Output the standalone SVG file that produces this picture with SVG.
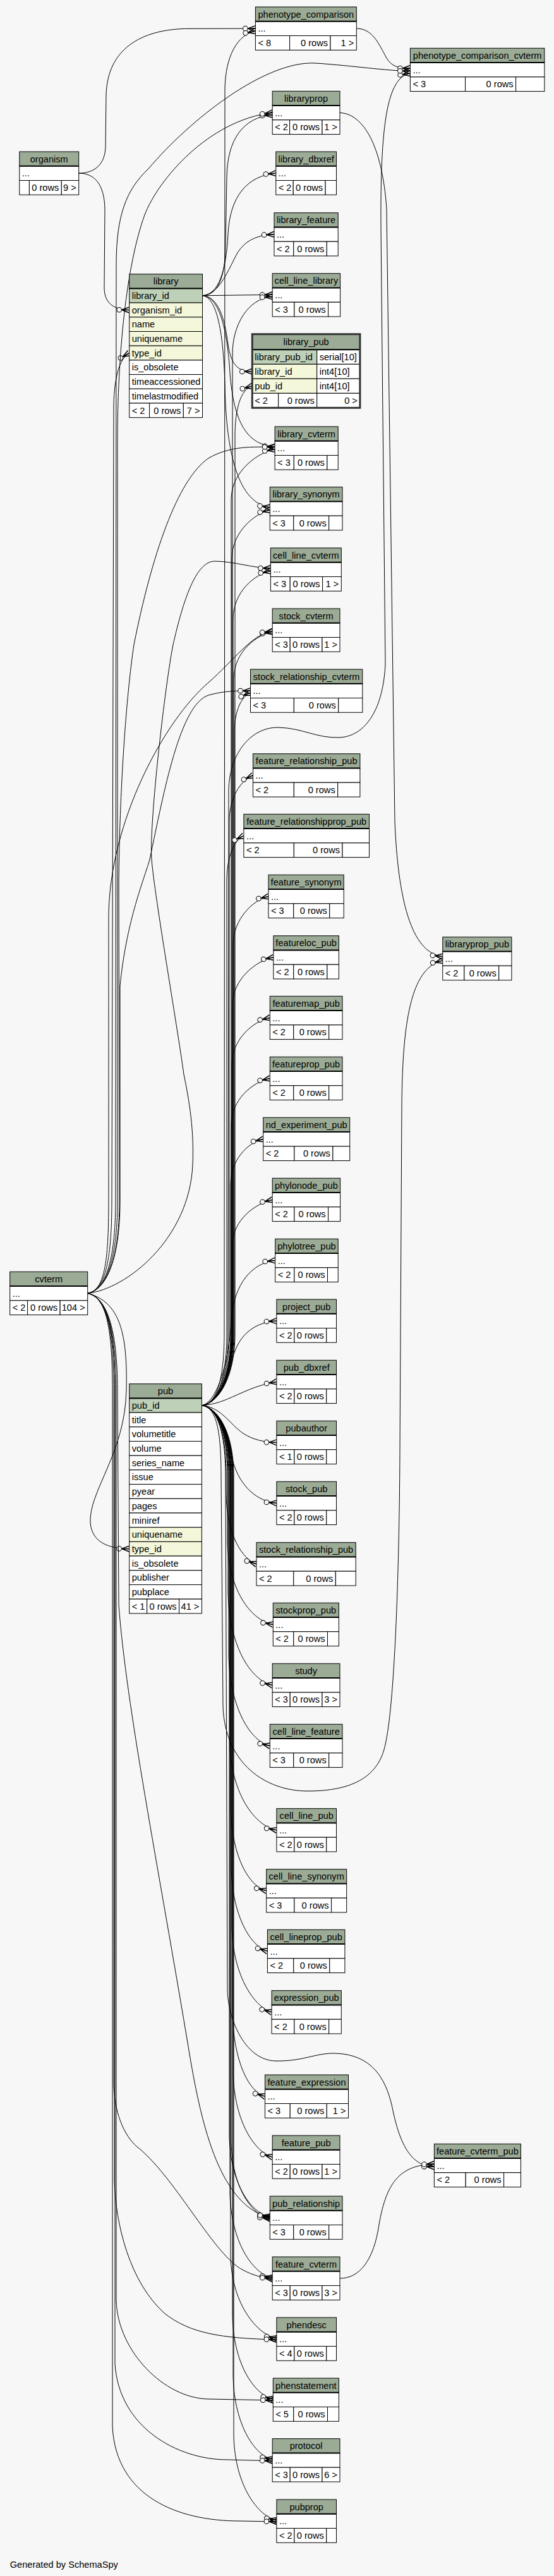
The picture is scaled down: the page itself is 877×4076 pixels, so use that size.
<svg xmlns="http://www.w3.org/2000/svg" width="877" height="4076" viewBox="0 0 877 4076">
<style>
.hd{fill:#9bab96;stroke:#000;stroke-width:1}
.rw{fill:#fff;stroke:#000;stroke-width:1}
.pk{fill:#bed1b8;stroke:#000;stroke-width:1}
.ix{fill:#f4f7da;stroke:#000;stroke-width:1}
.hb{stroke:#000;stroke-width:2}
.ob{fill:none;stroke:#333;stroke-width:3}
text{font-family:"Liberation Sans",Arial,Helvetica,sans-serif;font-size:14.6px;fill:#000}
.c{text-anchor:middle}
.r{text-anchor:end}
.e{fill:none;stroke:#000;stroke-width:1;marker-end:url(#crow)}
</style>
<defs>
<marker id="crow" viewBox="-22 -8 24 16" refX="0" refY="0" markerWidth="24" markerHeight="16" markerUnits="userSpaceOnUse" orient="auto">
<path d="M-12,0 L0,-4.5 M-12,0 L0,0 M-12,0 L0,4.5" fill="none" stroke="#000" stroke-width="1.5"/>
<circle cx="-16" cy="0" r="3.8" fill="#f7f7f7" stroke="#000" stroke-width="1"/>
</marker>
</defs>
<rect x="0" y="0" width="877" height="4076" fill="#f7f7f7"/>
<g id="connectors">
<path class="e" d="M124.7,274.1 C150,274 166,260 167,233 L168,150 C170,80 220,45.5 300,45.3 L404.4,45.1"/>
<path class="e" d="M124.7,274.1 C150,274 165,292 166,330 L165,455 C165,478 178,490 204.7,490.45"/>
<path class="e" d="M320.5,467.75 C345,467 356,440 357,390 L359,280 C360,220 385,186 431.2,181.5"/>
<path class="e" d="M320.5,467.75 C346,466 358,430 361,370 C364,310 392,278 436.8,274.1"/>
<path class="e" d="M320.5,467.75 C348,466 362,425 376,400 C390,378 410,372 434,370.8"/>
<path class="e" d="M320.5,467.75 L431.2,466.3"/>
<path class="e" d="M320.5,467.75 C346,469 356,505 361,545 C366,578 377,588 399.3,587.8"/>
<path class="e" d="M320.5,467.75 C348,469 360,525 364,590 C370,670 392,704 435.1,707"/>
<path class="e" d="M320.5,467.75 C344,470 354,530 356,610 C358,720 378,796 427.3,802.8"/>
<path class="e" d="M319.4,2223.75 C342,2222 355,2185 355,2110 L356,140 C357,90 375,55 404.4,49"/>
<path class="e" d="M319.4,2223.75 C342,2222 361,2185 361,2110 L362,1250 C363,1195 395,1151 440,1151 C480,1152 500,1168 537,1167 C580,1165 607,1120 610,1050 L603,360 C602,200 612,122 649.4,116"/>
<path class="e" d="M319.4,2223.75 C342,2222 368,2185 368,2110 L368,560 C368,515 392,472 431.2,469.3"/>
<path class="e" d="M319.4,2223.75 C342,2222 372,2185 372,2110 L372,690 C372,650 380,616 399.3,610.8"/>
<path class="e" d="M319.4,2223.75 C342,2222 366,2185 366,2110 L366,790 C366,745 410,715 435.1,711"/>
<path class="e" d="M319.4,2223.75 C342,2222 367,2185 367,2110 L367,885 C367,840 405,812 427.3,807"/>
<path class="e" d="M319.4,2223.75 C342,2222 369,2185 369,2110 L369,980 C369,935 405,908 428.4,903.5"/>
<path class="e" d="M319.4,2223.75 C342,2222 370,2185 370,2110 L370,1075 C370,1030 408,1004 431.2,999.5"/>
<path class="e" d="M319.4,2223.75 C342,2222 371,2185 371,2110 L371,1160 C371,1125 382,1102 396.5,1096"/>
<path class="e" d="M319.4,2223.75 C342,2222 363,2185 363,2110 L363,1300 C363,1262 380,1236 400.5,1226.8"/>
<path class="e" d="M319.4,2223.75 C342,2222 359,2185 359,2110 L359,1395 C359,1356 370,1330 385.9,1322.4"/>
<path class="e" d="M319.4,2223.75 C342,2222 369,2185 369,2110 L369,1495 C369,1455 400,1424 425,1418.4"/>
<path class="e" d="M319.4,2223.75 C342,2222 368,2185 368,2110 L368,1590 C368,1550 405,1520 432.9,1514.8"/>
<path class="e" d="M319.4,2223.75 C342,2222 367,2185 367,2110 L367,1685 C367,1645 400,1616 427.3,1610.4"/>
<path class="e" d="M319.4,2223.75 C342,2222 366,2185 366,2110 L366,1780 C366,1740 400,1712 427.3,1706.4"/>
<path class="e" d="M319.4,2223.75 C342,2222 365,2185 365,2110 L365,1875 C365,1835 392,1808 416.7,1802.4"/>
<path class="e" d="M319.4,2223.75 C342,2222 368,2185 368,2110 L368,1970 C368,1930 405,1904 431.2,1898.4"/>
<path class="e" d="M319.4,2223.75 C342,2220 362,2160 366,2090 C370,2030 400,1998 435.7,1994.4"/>
<path class="e" d="M319.4,2223.75 C345,2220 360,2185 368,2150 C378,2110 405,2092 437.9,2090.1"/>
<path class="e" d="M319.4,2223.75 C360,2222 385,2195 437.9,2186.4"/>
<path class="e" d="M319.4,2223.75 C350,2226 365,2255 385,2268 C400,2278 418,2282 437.9,2282.4"/>
<path class="e" d="M319.4,2223.75 C345,2228 358,2270 368,2310 C380,2355 410,2376 437.9,2378.4"/>
<path class="e" d="M319.4,2223.75 C342,2226 358,2262 358,2335 L358,2360 C358,2430 385,2468 406,2474.8"/>
<path class="e" d="M319.4,2223.75 C342,2226 360,2262 360,2335 L360,2440 C362,2520 400,2565 432.3,2570.4"/>
<path class="e" d="M319.4,2223.75 C342,2226 361,2262 361,2335 L361,2520 C363,2610 400,2660 431.2,2666.4"/>
<path class="e" d="M319.4,2223.75 C342,2226 362,2262 362,2335 L362,2620 C364,2705 398,2756 427.3,2762.4"/>
<path class="e" d="M319.4,2223.75 C342,2226 364,2262 364,2335 L364,2760 C366,2840 405,2890 437.9,2895.8"/>
<path class="e" d="M319.4,2223.75 C342,2226 365,2262 365,2335 L365,2860 C367,2940 395,2985 421.7,2991.8"/>
<path class="e" d="M319.4,2223.75 C342,2226 366,2262 366,2335 L366,2955 C368,3035 398,3080 423.4,3087.4"/>
<path class="e" d="M319.4,2223.75 C342,2226 367,2262 367,2335 L367,3050 C369,3130 405,3177 430.1,3183.8"/>
<path class="e" d="M319.4,2223.75 C342,2226 368,2262 368,2335 L368,3185 C370,3265 395,3310 419.5,3317.1"/>
<path class="e" d="M319.4,2223.75 C342,2226 369,2262 369,2335 L369,3280 C371,3360 405,3406 431.2,3413.1"/>
<path class="e" d="M319.4,2223.75 C342,2226 363,2262 363,2335 L363,3380 C365,3460 400,3503 427.3,3507.5"/>
<path class="e" d="M319.4,2223.75 C342,2226 366,2262 366,2335 L366,3390 C368,3470 405,3508 427.3,3510.5"/>
<path class="e" d="M319.4,2223.75 C342,2226 364,2262 364,2335 L364,3470 C366,3555 405,3600 431.2,3604"/>
<path class="e" d="M319.4,2223.75 C342,2226 365,2262 365,2335 L365,3570 C367,3650 410,3695 437.9,3700"/>
<path class="e" d="M319.4,2223.75 C342,2226 368,2262 368,2335 L368,3665 C370,3745 405,3790 432.3,3796"/>
<path class="e" d="M319.4,2223.75 C342,2226 369,2262 369,2335 L369,3760 C371,3840 405,3886 431.2,3891.5"/>
<path class="e" d="M319.4,2223.75 C342,2226 370,2262 370,2335 L370,3855 C372,3935 410,3982 437.9,3988"/>
<path class="e" d="M319.4,2223.75 C342,2226 350,2262 350,2335 L353,2700 C356,2790 420,2834 487,2834 C560,2834 600,2810 610,2760 C624,2700 632,2500 633,2300 L636,1750 C637,1600 655,1530 700.8,1520"/>
<path class="e" d="M319.4,2223.75 C342,2226 357,2262 357,2335 L360,3150 C362,3200 390,3260 436,3261 C480,3262 500,3248 531,3249 C590,3251 610,3290 620,3330 C630,3380 645,3428 687.4,3428.5"/>
<path class="e" d="M538,178.4 C575,180 605,230 612,330 L625,1300 C630,1420 650,1508 700.8,1513.5"/>
<path class="e" d="M564.3,45.1 C590,45 600,70 612,92 C620,105 630,108 649.4,108"/>
<path class="e" d="M538,3605.1 C570,3605 592,3575 600,3520 C612,3450 635,3426 687.4,3424"/>
<path class="e" d="M138.7,2046.4 C165,2042 177,2000 177,1900 L180,640 C181,600 188,568 204.7,558.5"/>
<path class="e" d="M138.7,2046.4 C165,2042 186,2000 186,1900 L186,700 C186,560 200,420 229,340 C250,285 330,190 431.2,178.4"/>
<path class="e" d="M138.7,2046.4 C165,2042 183,2000 183,1900 L184,420 C184,340 200,300 235,267 C300,190 420,95 500,100 C560,104 610,112 649.4,112.5"/>
<path class="e" d="M138.7,2046.4 C165,2042 189,2000 189,1900 L188,1400 C189,1250 200,1100 212,1020 C240,880 280,760 330,725 C365,705 400,707 435.1,707.5"/>
<path class="e" d="M138.7,2046.4 C200,2040 300,1960 305,1843 C308,1780 296,1725 291,1700 C280,1620 245,1420 240,1360 C236,1300 262,1080 274,1020 C290,950 310,888 340,888 C370,888 400,899 428.4,899"/>
<path class="e" d="M138.7,2046.4 C165,2042 172,2000 172,1900 L172,1450 C173,1300 260,1140 330,1080 C370,1045 400,1002 431.2,999"/>
<path class="e" d="M138.7,2046.4 C165,2042 190,2000 190,1900 L190,1560 C200,1460 225,1400 237,1360 C260,1250 285,1115 330,1100 C355,1093 375,1093 396.5,1093.1"/>
<path class="e" d="M138.7,2046.4 C190,2060 202,2110 200,2200 C198,2300 140,2360 143,2410 C146,2440 170,2450 204.7,2450.75"/>
<path class="e" d="M138.7,2046.4 C168,2052 186,2100 186,2200 L188,2540 C200,2700 250,2950 300,3250 C320,3370 350,3490 427.3,3509.1"/>
<path class="e" d="M138.7,2046.4 C168,2052 180,2100 180,2200 L180,3300 C182,3350 200,3385 221,3400 C280,3450 340,3570 385,3592 C400,3600 415,3604 431.2,3606"/>
<path class="e" d="M138.7,2046.4 C168,2052 182,2100 182,2200 L181,3450 C183,3520 205,3610 260,3660 C300,3692 350,3700 437.9,3702"/>
<path class="e" d="M138.7,2046.4 C168,2052 184,2100 184,2200 L184,3640 C186,3720 260,3795 330,3796 L432.3,3798"/>
<path class="e" d="M138.7,2046.4 C168,2052 182,2100 182,2200 L182,3740 C188,3840 280,3892 360,3892 L431.2,3893.8"/>
<path class="e" d="M138.7,2046.4 C168,2052 178,2100 178,2200 L178,3840 C184,3950 280,3989 380,3989 L437.9,3990"/>
</g>
<g id="phenotype_comparison">
<rect class="hd" x="404.4" y="11" width="159.9" height="22.75"/><rect class="rw" x="404.4" y="33.75" width="159.9" height="22.75"/>
<rect class="rw" x="404.4" y="56.5" width="54.2" height="22.75"/><rect class="rw" x="458.6" y="56.5" width="64.4" height="22.75"/><rect class="rw" x="523" y="56.5" width="41.3" height="22.75"/>
<line class="hb" x1="404.4" y1="33.75" x2="564.3" y2="33.75"/>
<text class="c" x="484.35" y="27.5">phenotype_comparison</text><text x="408.4" y="50.25">...</text>
<text x="408.4" y="73">&lt; 8</text><text class="r" x="519" y="73">0 rows</text><text class="r" x="560.3" y="73">1 &gt;</text>
</g>
<g id="phenotype_comparison_cvterm">
<rect class="hd" x="649.4" y="76.3" width="212.5" height="22.75"/><rect class="rw" x="649.4" y="99.05" width="212.5" height="22.75"/>
<rect class="rw" x="649.4" y="121.8" width="87.2" height="22.75"/><rect class="rw" x="736.6" y="121.8" width="80" height="22.75"/><rect class="rw" x="816.6" y="121.8" width="45.3" height="22.75"/>
<line class="hb" x1="649.4" y1="99.05" x2="861.9" y2="99.05"/>
<text class="c" x="755.65" y="92.8">phenotype_comparison_cvterm</text><text x="653.4" y="115.55">...</text>
<text x="653.4" y="138.3">&lt; 3</text><text class="r" x="812.6" y="138.3">0 rows</text>
</g>
<g id="libraryprop">
<rect class="hd" x="431.2" y="144.3" width="106.8" height="22.75"/><rect class="rw" x="431.2" y="167.05" width="106.8" height="22.75"/>
<rect class="rw" x="431.2" y="189.8" width="27.4" height="22.75"/><rect class="rw" x="458.6" y="189.8" width="51.4" height="22.75"/><rect class="rw" x="510" y="189.8" width="28" height="22.75"/>
<line class="hb" x1="431.2" y1="167.05" x2="538" y2="167.05"/>
<text class="c" x="484.6" y="160.8">libraryprop</text><text x="435.2" y="183.55">...</text>
<text x="435.2" y="206.3">&lt; 2</text><text class="r" x="506" y="206.3">0 rows</text><text class="r" x="534" y="206.3">1 &gt;</text>
</g>
<g id="library_dbxref">
<rect class="hd" x="436.8" y="240" width="95.7" height="22.75"/><rect class="rw" x="436.8" y="262.75" width="95.7" height="22.75"/>
<rect class="rw" x="436.8" y="285.5" width="27.4" height="22.75"/><rect class="rw" x="464.2" y="285.5" width="50.9" height="22.75"/><rect class="rw" x="515.1" y="285.5" width="17.4" height="22.75"/>
<line class="hb" x1="436.8" y1="262.75" x2="532.5" y2="262.75"/>
<text class="c" x="484.65" y="256.5">library_dbxref</text><text x="440.8" y="279.25">...</text>
<text x="440.8" y="302">&lt; 2</text><text class="r" x="511.1" y="302">0 rows</text>
</g>
<g id="organism">
<rect class="hd" x="30.8" y="240" width="93.9" height="22.75"/><rect class="rw" x="30.8" y="262.75" width="93.9" height="22.75"/>
<rect class="rw" x="30.8" y="285.5" width="15.6" height="22.75"/><rect class="rw" x="46.4" y="285.5" width="50.9" height="22.75"/><rect class="rw" x="97.3" y="285.5" width="27.4" height="22.75"/>
<line class="hb" x1="30.8" y1="262.75" x2="124.7" y2="262.75"/>
<text class="c" x="77.75" y="256.5">organism</text><text x="34.8" y="279.25">...</text>
<text class="r" x="93.3" y="302">0 rows</text><text class="r" x="120.7" y="302">9 &gt;</text>
</g>
<g id="library_feature">
<rect class="hd" x="434" y="336.7" width="101.2" height="22.75"/><rect class="rw" x="434" y="359.45" width="101.2" height="22.75"/>
<rect class="rw" x="434" y="382.2" width="30.8" height="22.75"/><rect class="rw" x="464.8" y="382.2" width="52.5" height="22.75"/><rect class="rw" x="517.3" y="382.2" width="17.9" height="22.75"/>
<line class="hb" x1="434" y1="359.45" x2="535.2" y2="359.45"/>
<text class="c" x="484.6" y="353.2">library_feature</text><text x="438" y="375.95">...</text>
<text x="438" y="398.7">&lt; 2</text><text class="r" x="513.3" y="398.7">0 rows</text>
</g>
<g id="cell_line_library">
<rect class="hd" x="431.2" y="432.7" width="107.4" height="22.75"/><rect class="rw" x="431.2" y="455.45" width="107.4" height="22.75"/>
<rect class="rw" x="431.2" y="478.2" width="34.7" height="22.75"/><rect class="rw" x="465.9" y="478.2" width="53.7" height="22.75"/><rect class="rw" x="519.6" y="478.2" width="19" height="22.75"/>
<line class="hb" x1="431.2" y1="455.45" x2="538.6" y2="455.45"/>
<text class="c" x="484.9" y="449.2">cell_line_library</text><text x="435.2" y="471.95">...</text>
<text x="435.2" y="494.7">&lt; 3</text><text class="r" x="515.6" y="494.7">0 rows</text>
</g>
<g id="library">
<rect class="hd" x="204.7" y="433.7" width="115.8" height="22.7"/>
<rect class="pk" x="204.7" y="456.4" width="115.8" height="22.7"/>
<rect class="ix" x="204.7" y="479.1" width="115.8" height="22.7"/>
<rect class="ix" x="204.7" y="501.8" width="115.8" height="22.7"/>
<rect class="ix" x="204.7" y="524.5" width="115.8" height="22.7"/>
<rect class="ix" x="204.7" y="547.2" width="115.8" height="22.7"/>
<rect class="rw" x="204.7" y="569.9" width="115.8" height="22.7"/>
<rect class="rw" x="204.7" y="592.6" width="115.8" height="22.7"/>
<rect class="rw" x="204.7" y="615.3" width="115.8" height="22.7"/>
<rect class="rw" x="204.7" y="638" width="31.9" height="22.7"/><rect class="rw" x="236.6" y="638" width="53.7" height="22.7"/><rect class="rw" x="290.3" y="638" width="30.2" height="22.7"/>
<line class="hb" x1="204.7" y1="456.4" x2="320.5" y2="456.4"/>
<text class="c" x="262.6" y="450.2">library</text>
<text x="208.7" y="472.9">library_id</text>
<text x="208.7" y="495.6">organism_id</text>
<text x="208.7" y="518.3">name</text>
<text x="208.7" y="541">uniquename</text>
<text x="208.7" y="563.7">type_id</text>
<text x="208.7" y="586.4">is_obsolete</text>
<text x="208.7" y="609.1">timeaccessioned</text>
<text x="208.7" y="631.8">timelastmodified</text>
<text x="208.7" y="654.5">&lt; 2</text><text class="r" x="286.3" y="654.5">0 rows</text><text class="r" x="316.5" y="654.5">7 &gt;</text>
</g>
<g id="library_pub">
<rect class="hd" x="399.3" y="528.7" width="170.6" height="24.6"/>
<rect class="pk" x="399.3" y="553.3" width="102.4" height="23"/><rect class="rw" x="501.7" y="553.3" width="68.2" height="23"/>
<rect class="ix" x="399.3" y="576.3" width="102.4" height="23"/><rect class="rw" x="501.7" y="576.3" width="68.2" height="23"/>
<rect class="ix" x="399.3" y="599.3" width="102.4" height="23"/><rect class="rw" x="501.7" y="599.3" width="68.2" height="23"/>
<rect class="rw" x="399.3" y="622.3" width="41.4" height="23"/><rect class="rw" x="440.7" y="622.3" width="61" height="23"/><rect class="rw" x="501.7" y="622.3" width="68.2" height="23"/>
<line class="hb" x1="399.3" y1="553.3" x2="569.9" y2="553.3"/>
<rect class="ob" x="399.3" y="528.7" width="170.6" height="116.6"/>
<text class="c" x="484.6" y="545.5">library_pub</text>
<text x="403.3" y="569.8">library_pub_id</text><text x="505.7" y="569.8">serial[10]</text>
<text x="403.3" y="592.8">library_id</text><text x="505.7" y="592.8">int4[10]</text>
<text x="403.3" y="615.8">pub_id</text><text x="505.7" y="615.8">int4[10]</text>
<text x="403.3" y="638.8">&lt; 2</text><text class="r" x="497.7" y="638.8">0 rows</text><text class="r" x="565.9" y="638.8">0 &gt;</text>
</g>
<g id="library_cvterm">
<rect class="hd" x="435.1" y="675" width="100.1" height="22.75"/><rect class="rw" x="435.1" y="697.75" width="100.1" height="22.75"/>
<rect class="rw" x="435.1" y="720.5" width="30.2" height="22.75"/><rect class="rw" x="465.3" y="720.5" width="52.6" height="22.75"/><rect class="rw" x="517.9" y="720.5" width="17.3" height="22.75"/>
<line class="hb" x1="435.1" y1="697.75" x2="535.2" y2="697.75"/>
<text class="c" x="485.15" y="691.5">library_cvterm</text><text x="439.1" y="714.25">...</text>
<text x="439.1" y="737">&lt; 3</text><text class="r" x="513.9" y="737">0 rows</text>
</g>
<g id="library_synonym">
<rect class="hd" x="427.3" y="770.7" width="114.7" height="22.75"/><rect class="rw" x="427.3" y="793.45" width="114.7" height="22.75"/>
<rect class="rw" x="427.3" y="816.2" width="37.5" height="22.75"/><rect class="rw" x="464.8" y="816.2" width="55.9" height="22.75"/><rect class="rw" x="520.7" y="816.2" width="21.3" height="22.75"/>
<line class="hb" x1="427.3" y1="793.45" x2="542" y2="793.45"/>
<text class="c" x="484.65" y="787.2">library_synonym</text><text x="431.3" y="809.95">...</text>
<text x="431.3" y="832.7">&lt; 3</text><text class="r" x="516.7" y="832.7">0 rows</text>
</g>
<g id="cell_line_cvterm">
<rect class="hd" x="428.4" y="867" width="111.9" height="22.75"/><rect class="rw" x="428.4" y="889.75" width="111.9" height="22.75"/>
<rect class="rw" x="428.4" y="912.5" width="30.8" height="22.75"/><rect class="rw" x="459.2" y="912.5" width="51.4" height="22.75"/><rect class="rw" x="510.6" y="912.5" width="29.7" height="22.75"/>
<line class="hb" x1="428.4" y1="889.75" x2="540.3" y2="889.75"/>
<text class="c" x="484.35" y="883.5">cell_line_cvterm</text><text x="432.4" y="906.25">...</text>
<text x="432.4" y="929">&lt; 3</text><text class="r" x="506.6" y="929">0 rows</text><text class="r" x="536.3" y="929">1 &gt;</text>
</g>
<g id="stock_cvterm">
<rect class="hd" x="431.2" y="963" width="106.8" height="22.75"/><rect class="rw" x="431.2" y="985.75" width="106.8" height="22.75"/>
<rect class="rw" x="431.2" y="1008.5" width="28" height="22.75"/><rect class="rw" x="459.2" y="1008.5" width="50.8" height="22.75"/><rect class="rw" x="510" y="1008.5" width="28" height="22.75"/>
<line class="hb" x1="431.2" y1="985.75" x2="538" y2="985.75"/>
<text class="c" x="484.6" y="979.5">stock_cvterm</text><text x="435.2" y="1002.25">...</text>
<text x="435.2" y="1025">&lt; 3</text><text class="r" x="506" y="1025">0 rows</text><text class="r" x="534" y="1025">1 &gt;</text>
</g>
<g id="stock_relationship_cvterm">
<rect class="hd" x="396.5" y="1059" width="177.3" height="22.75"/><rect class="rw" x="396.5" y="1081.75" width="177.3" height="22.75"/>
<rect class="rw" x="396.5" y="1104.5" width="68.8" height="22.75"/><rect class="rw" x="465.3" y="1104.5" width="70.5" height="22.75"/><rect class="rw" x="535.8" y="1104.5" width="38" height="22.75"/>
<line class="hb" x1="396.5" y1="1081.75" x2="573.8" y2="1081.75"/>
<text class="c" x="485.15" y="1075.5">stock_relationship_cvterm</text><text x="400.5" y="1098.25">...</text>
<text x="400.5" y="1121">&lt; 3</text><text class="r" x="531.8" y="1121">0 rows</text>
</g>
<g id="feature_relationship_pub">
<rect class="hd" x="400.5" y="1192.7" width="169.4" height="22.75"/><rect class="rw" x="400.5" y="1215.45" width="169.4" height="22.75"/>
<rect class="rw" x="400.5" y="1238.2" width="64.8" height="22.75"/><rect class="rw" x="465.3" y="1238.2" width="69.4" height="22.75"/><rect class="rw" x="534.7" y="1238.2" width="35.2" height="22.75"/>
<line class="hb" x1="400.5" y1="1215.45" x2="569.9" y2="1215.45"/>
<text class="c" x="485.2" y="1209.2">feature_relationship_pub</text><text x="404.5" y="1231.95">...</text>
<text x="404.5" y="1254.7">&lt; 2</text><text class="r" x="530.7" y="1254.7">0 rows</text>
</g>
<g id="feature_relationshipprop_pub">
<rect class="hd" x="385.9" y="1288.3" width="198.6" height="22.75"/><rect class="rw" x="385.9" y="1311.05" width="198.6" height="22.75"/>
<rect class="rw" x="385.9" y="1333.8" width="79.4" height="22.75"/><rect class="rw" x="465.3" y="1333.8" width="76.7" height="22.75"/><rect class="rw" x="542" y="1333.8" width="42.5" height="22.75"/>
<line class="hb" x1="385.9" y1="1311.05" x2="584.5" y2="1311.05"/>
<text class="c" x="485.2" y="1304.8">feature_relationshipprop_pub</text><text x="389.9" y="1327.55">...</text>
<text x="389.9" y="1350.3">&lt; 2</text><text class="r" x="538" y="1350.3">0 rows</text>
</g>
<g id="feature_synonym">
<rect class="hd" x="425" y="1384.3" width="119.2" height="22.75"/><rect class="rw" x="425" y="1407.05" width="119.2" height="22.75"/>
<rect class="rw" x="425" y="1429.8" width="39.8" height="22.75"/><rect class="rw" x="464.8" y="1429.8" width="57" height="22.75"/><rect class="rw" x="521.8" y="1429.8" width="22.4" height="22.75"/>
<line class="hb" x1="425" y1="1407.05" x2="544.2" y2="1407.05"/>
<text class="c" x="484.6" y="1400.8">feature_synonym</text><text x="429" y="1423.55">...</text>
<text x="429" y="1446.3">&lt; 3</text><text class="r" x="517.8" y="1446.3">0 rows</text>
</g>
<g id="featureloc_pub">
<rect class="hd" x="432.9" y="1480.7" width="103.5" height="22.75"/><rect class="rw" x="432.9" y="1503.45" width="103.5" height="22.75"/>
<rect class="rw" x="432.9" y="1526.2" width="31.9" height="22.75"/><rect class="rw" x="464.8" y="1526.2" width="53.1" height="22.75"/><rect class="rw" x="517.9" y="1526.2" width="18.5" height="22.75"/>
<line class="hb" x1="432.9" y1="1503.45" x2="536.4" y2="1503.45"/>
<text class="c" x="484.65" y="1497.2">featureloc_pub</text><text x="436.9" y="1519.95">...</text>
<text x="436.9" y="1542.7">&lt; 2</text><text class="r" x="513.9" y="1542.7">0 rows</text>
</g>
<g id="libraryprop_pub">
<rect class="hd" x="700.8" y="1482.7" width="109.1" height="22.75"/><rect class="rw" x="700.8" y="1505.45" width="109.1" height="22.75"/>
<rect class="rw" x="700.8" y="1528.2" width="34.1" height="22.75"/><rect class="rw" x="734.9" y="1528.2" width="54.8" height="22.75"/><rect class="rw" x="789.7" y="1528.2" width="20.2" height="22.75"/>
<line class="hb" x1="700.8" y1="1505.45" x2="809.9" y2="1505.45"/>
<text class="c" x="755.35" y="1499.2">libraryprop_pub</text><text x="704.8" y="1521.95">...</text>
<text x="704.8" y="1544.7">&lt; 2</text><text class="r" x="785.7" y="1544.7">0 rows</text>
</g>
<g id="featuremap_pub">
<rect class="hd" x="427.3" y="1576.3" width="114.7" height="22.75"/><rect class="rw" x="427.3" y="1599.05" width="114.7" height="22.75"/>
<rect class="rw" x="427.3" y="1621.8" width="37.5" height="22.75"/><rect class="rw" x="464.8" y="1621.8" width="55.9" height="22.75"/><rect class="rw" x="520.7" y="1621.8" width="21.3" height="22.75"/>
<line class="hb" x1="427.3" y1="1599.05" x2="542" y2="1599.05"/>
<text class="c" x="484.65" y="1592.8">featuremap_pub</text><text x="431.3" y="1615.55">...</text>
<text x="431.3" y="1638.3">&lt; 2</text><text class="r" x="516.7" y="1638.3">0 rows</text>
</g>
<g id="featureprop_pub">
<rect class="hd" x="427.3" y="1672.3" width="114.7" height="22.75"/><rect class="rw" x="427.3" y="1695.05" width="114.7" height="22.75"/>
<rect class="rw" x="427.3" y="1717.8" width="37.5" height="22.75"/><rect class="rw" x="464.8" y="1717.8" width="55.9" height="22.75"/><rect class="rw" x="520.7" y="1717.8" width="21.3" height="22.75"/>
<line class="hb" x1="427.3" y1="1695.05" x2="542" y2="1695.05"/>
<text class="c" x="484.65" y="1688.8">featureprop_pub</text><text x="431.3" y="1711.55">...</text>
<text x="431.3" y="1734.3">&lt; 2</text><text class="r" x="516.7" y="1734.3">0 rows</text>
</g>
<g id="nd_experiment_pub">
<rect class="hd" x="416.7" y="1768.3" width="137" height="22.75"/><rect class="rw" x="416.7" y="1791.05" width="137" height="22.75"/>
<rect class="rw" x="416.7" y="1813.8" width="49.2" height="22.75"/><rect class="rw" x="465.9" y="1813.8" width="61" height="22.75"/><rect class="rw" x="526.9" y="1813.8" width="26.8" height="22.75"/>
<line class="hb" x1="416.7" y1="1791.05" x2="553.7" y2="1791.05"/>
<text class="c" x="485.2" y="1784.8">nd_experiment_pub</text><text x="420.7" y="1807.55">...</text>
<text x="420.7" y="1830.3">&lt; 2</text><text class="r" x="522.9" y="1830.3">0 rows</text>
</g>
<g id="phylonode_pub">
<rect class="hd" x="431.2" y="1864.3" width="107.4" height="22.75"/><rect class="rw" x="431.2" y="1887.05" width="107.4" height="22.75"/>
<rect class="rw" x="431.2" y="1909.8" width="34.7" height="22.75"/><rect class="rw" x="465.9" y="1909.8" width="53.7" height="22.75"/><rect class="rw" x="519.6" y="1909.8" width="19" height="22.75"/>
<line class="hb" x1="431.2" y1="1887.05" x2="538.6" y2="1887.05"/>
<text class="c" x="484.9" y="1880.8">phylonode_pub</text><text x="435.2" y="1903.55">...</text>
<text x="435.2" y="1926.3">&lt; 2</text><text class="r" x="515.6" y="1926.3">0 rows</text>
</g>
<g id="phylotree_pub">
<rect class="hd" x="435.7" y="1960.3" width="99.5" height="22.75"/><rect class="rw" x="435.7" y="1983.05" width="99.5" height="22.75"/>
<rect class="rw" x="435.7" y="2005.8" width="30.2" height="22.75"/><rect class="rw" x="465.9" y="2005.8" width="52.6" height="22.75"/><rect class="rw" x="518.5" y="2005.8" width="16.7" height="22.75"/>
<line class="hb" x1="435.7" y1="1983.05" x2="535.2" y2="1983.05"/>
<text class="c" x="485.45" y="1976.8">phylotree_pub</text><text x="439.7" y="1999.55">...</text>
<text x="439.7" y="2022.3">&lt; 2</text><text class="r" x="514.5" y="2022.3">0 rows</text>
</g>
<g id="cvterm">
<rect class="hd" x="15.7" y="2012.3" width="123" height="22.75"/><rect class="rw" x="15.7" y="2035.05" width="123" height="22.75"/>
<rect class="rw" x="15.7" y="2057.8" width="27.9" height="22.75"/><rect class="rw" x="43.6" y="2057.8" width="51.5" height="22.75"/><rect class="rw" x="95.1" y="2057.8" width="43.6" height="22.75"/>
<line class="hb" x1="15.7" y1="2035.05" x2="138.7" y2="2035.05"/>
<text class="c" x="77.2" y="2028.8">cvterm</text><text x="19.7" y="2051.55">...</text>
<text x="19.7" y="2074.3">&lt; 2</text><text class="r" x="91.1" y="2074.3">0 rows</text><text class="r" x="134.7" y="2074.3">104 &gt;</text>
</g>
<g id="project_pub">
<rect class="hd" x="437.9" y="2056" width="94.6" height="22.75"/><rect class="rw" x="437.9" y="2078.75" width="94.6" height="22.75"/>
<rect class="rw" x="437.9" y="2101.5" width="28" height="22.75"/><rect class="rw" x="465.9" y="2101.5" width="50.9" height="22.75"/><rect class="rw" x="516.8" y="2101.5" width="15.7" height="22.75"/>
<line class="hb" x1="437.9" y1="2078.75" x2="532.5" y2="2078.75"/>
<text class="c" x="485.2" y="2072.5">project_pub</text><text x="441.9" y="2095.25">...</text>
<text x="441.9" y="2118">&lt; 2</text><text class="r" x="512.8" y="2118">0 rows</text>
</g>
<g id="pub_dbxref">
<rect class="hd" x="437.9" y="2152.3" width="94.6" height="22.75"/><rect class="rw" x="437.9" y="2175.05" width="94.6" height="22.75"/>
<rect class="rw" x="437.9" y="2197.8" width="28" height="22.75"/><rect class="rw" x="465.9" y="2197.8" width="50.9" height="22.75"/><rect class="rw" x="516.8" y="2197.8" width="15.7" height="22.75"/>
<line class="hb" x1="437.9" y1="2175.05" x2="532.5" y2="2175.05"/>
<text class="c" x="485.2" y="2168.8">pub_dbxref</text><text x="441.9" y="2191.55">...</text>
<text x="441.9" y="2214.3">&lt; 2</text><text class="r" x="512.8" y="2214.3">0 rows</text>
</g>
<g id="pubauthor">
<rect class="hd" x="437.9" y="2248.3" width="94.6" height="22.75"/><rect class="rw" x="437.9" y="2271.05" width="94.6" height="22.75"/>
<rect class="rw" x="437.9" y="2293.8" width="28" height="22.75"/><rect class="rw" x="465.9" y="2293.8" width="50.9" height="22.75"/><rect class="rw" x="516.8" y="2293.8" width="15.7" height="22.75"/>
<line class="hb" x1="437.9" y1="2271.05" x2="532.5" y2="2271.05"/>
<text class="c" x="485.2" y="2264.8">pubauthor</text><text x="441.9" y="2287.55">...</text>
<text x="441.9" y="2310.3">&lt; 1</text><text class="r" x="512.8" y="2310.3">0 rows</text>
</g>
<g id="stock_pub">
<rect class="hd" x="437.9" y="2344.3" width="94.6" height="22.75"/><rect class="rw" x="437.9" y="2367.05" width="94.6" height="22.75"/>
<rect class="rw" x="437.9" y="2389.8" width="28" height="22.75"/><rect class="rw" x="465.9" y="2389.8" width="50.9" height="22.75"/><rect class="rw" x="516.8" y="2389.8" width="15.7" height="22.75"/>
<line class="hb" x1="437.9" y1="2367.05" x2="532.5" y2="2367.05"/>
<text class="c" x="485.2" y="2360.8">stock_pub</text><text x="441.9" y="2383.55">...</text>
<text x="441.9" y="2406.3">&lt; 2</text><text class="r" x="512.8" y="2406.3">0 rows</text>
</g>
<g id="pub">
<rect class="hd" x="204.7" y="2189.7" width="114.7" height="22.7"/>
<rect class="pk" x="204.7" y="2212.4" width="114.7" height="22.7"/>
<rect class="rw" x="204.7" y="2235.1" width="114.7" height="22.7"/>
<rect class="rw" x="204.7" y="2257.8" width="114.7" height="22.7"/>
<rect class="rw" x="204.7" y="2280.5" width="114.7" height="22.7"/>
<rect class="rw" x="204.7" y="2303.2" width="114.7" height="22.7"/>
<rect class="rw" x="204.7" y="2325.9" width="114.7" height="22.7"/>
<rect class="rw" x="204.7" y="2348.6" width="114.7" height="22.7"/>
<rect class="rw" x="204.7" y="2371.3" width="114.7" height="22.7"/>
<rect class="rw" x="204.7" y="2394" width="114.7" height="22.7"/>
<rect class="ix" x="204.7" y="2416.7" width="114.7" height="22.7"/>
<rect class="ix" x="204.7" y="2439.4" width="114.7" height="22.7"/>
<rect class="rw" x="204.7" y="2462.1" width="114.7" height="22.7"/>
<rect class="rw" x="204.7" y="2484.8" width="114.7" height="22.7"/>
<rect class="rw" x="204.7" y="2507.5" width="114.7" height="22.7"/>
<rect class="rw" x="204.7" y="2530.2" width="28" height="22.7"/><rect class="rw" x="232.7" y="2530.2" width="50.9" height="22.7"/><rect class="rw" x="283.6" y="2530.2" width="35.8" height="22.7"/>
<line class="hb" x1="204.7" y1="2212.4" x2="319.4" y2="2212.4"/>
<text class="c" x="262.05" y="2206.2">pub</text>
<text x="208.7" y="2228.9">pub_id</text>
<text x="208.7" y="2251.6">title</text>
<text x="208.7" y="2274.3">volumetitle</text>
<text x="208.7" y="2297">volume</text>
<text x="208.7" y="2319.7">series_name</text>
<text x="208.7" y="2342.4">issue</text>
<text x="208.7" y="2365.1">pyear</text>
<text x="208.7" y="2387.8">pages</text>
<text x="208.7" y="2410.5">miniref</text>
<text x="208.7" y="2433.2">uniquename</text>
<text x="208.7" y="2455.9">type_id</text>
<text x="208.7" y="2478.6">is_obsolete</text>
<text x="208.7" y="2501.3">publisher</text>
<text x="208.7" y="2524">pubplace</text>
<text x="208.7" y="2546.7">&lt; 1</text><text class="r" x="279.6" y="2546.7">0 rows</text><text class="r" x="315.4" y="2546.7">41 &gt;</text>
</g>
<g id="stock_relationship_pub">
<rect class="hd" x="406" y="2440.7" width="157.2" height="22.75"/><rect class="rw" x="406" y="2463.45" width="157.2" height="22.75"/>
<rect class="rw" x="406" y="2486.2" width="58.8" height="22.75"/><rect class="rw" x="464.8" y="2486.2" width="66.5" height="22.75"/><rect class="rw" x="531.3" y="2486.2" width="31.9" height="22.75"/>
<line class="hb" x1="406" y1="2463.45" x2="563.2" y2="2463.45"/>
<text class="c" x="484.6" y="2457.2">stock_relationship_pub</text><text x="410" y="2479.95">...</text>
<text x="410" y="2502.7">&lt; 2</text><text class="r" x="527.3" y="2502.7">0 rows</text>
</g>
<g id="stockprop_pub">
<rect class="hd" x="432.3" y="2536.3" width="104.1" height="22.75"/><rect class="rw" x="432.3" y="2559.05" width="104.1" height="22.75"/>
<rect class="rw" x="432.3" y="2581.8" width="32.5" height="22.75"/><rect class="rw" x="464.8" y="2581.8" width="53.7" height="22.75"/><rect class="rw" x="518.5" y="2581.8" width="17.9" height="22.75"/>
<line class="hb" x1="432.3" y1="2559.05" x2="536.4" y2="2559.05"/>
<text class="c" x="484.35" y="2552.8">stockprop_pub</text><text x="436.3" y="2575.55">...</text>
<text x="436.3" y="2598.3">&lt; 2</text><text class="r" x="514.5" y="2598.3">0 rows</text>
</g>
<g id="study">
<rect class="hd" x="431.2" y="2632.3" width="106.8" height="22.75"/><rect class="rw" x="431.2" y="2655.05" width="106.8" height="22.75"/>
<rect class="rw" x="431.2" y="2677.8" width="28" height="22.75"/><rect class="rw" x="459.2" y="2677.8" width="50.8" height="22.75"/><rect class="rw" x="510" y="2677.8" width="28" height="22.75"/>
<line class="hb" x1="431.2" y1="2655.05" x2="538" y2="2655.05"/>
<text class="c" x="484.6" y="2648.8">study</text><text x="435.2" y="2671.55">...</text>
<text x="435.2" y="2694.3">&lt; 3</text><text class="r" x="506" y="2694.3">0 rows</text><text class="r" x="534" y="2694.3">3 &gt;</text>
</g>
<g id="cell_line_feature">
<rect class="hd" x="427.3" y="2728.3" width="114.7" height="22.75"/><rect class="rw" x="427.3" y="2751.05" width="114.7" height="22.75"/>
<rect class="rw" x="427.3" y="2773.8" width="37.5" height="22.75"/><rect class="rw" x="464.8" y="2773.8" width="55.9" height="22.75"/><rect class="rw" x="520.7" y="2773.8" width="21.3" height="22.75"/>
<line class="hb" x1="427.3" y1="2751.05" x2="542" y2="2751.05"/>
<text class="c" x="484.65" y="2744.8">cell_line_feature</text><text x="431.3" y="2767.55">...</text>
<text x="431.3" y="2790.3">&lt; 3</text><text class="r" x="516.7" y="2790.3">0 rows</text>
</g>
<g id="cell_line_pub">
<rect class="hd" x="437.9" y="2861.7" width="94.6" height="22.75"/><rect class="rw" x="437.9" y="2884.45" width="94.6" height="22.75"/>
<rect class="rw" x="437.9" y="2907.2" width="28" height="22.75"/><rect class="rw" x="465.9" y="2907.2" width="50.9" height="22.75"/><rect class="rw" x="516.8" y="2907.2" width="15.7" height="22.75"/>
<line class="hb" x1="437.9" y1="2884.45" x2="532.5" y2="2884.45"/>
<text class="c" x="485.2" y="2878.2">cell_line_pub</text><text x="441.9" y="2900.95">...</text>
<text x="441.9" y="2923.7">&lt; 2</text><text class="r" x="512.8" y="2923.7">0 rows</text>
</g>
<g id="cell_line_synonym">
<rect class="hd" x="421.7" y="2957.7" width="127" height="22.75"/><rect class="rw" x="421.7" y="2980.45" width="127" height="22.75"/>
<rect class="rw" x="421.7" y="3003.2" width="44.2" height="22.75"/><rect class="rw" x="465.9" y="3003.2" width="58.7" height="22.75"/><rect class="rw" x="524.6" y="3003.2" width="24.1" height="22.75"/>
<line class="hb" x1="421.7" y1="2980.45" x2="548.7" y2="2980.45"/>
<text class="c" x="485.2" y="2974.2">cell_line_synonym</text><text x="425.7" y="2996.95">...</text>
<text x="425.7" y="3019.7">&lt; 3</text><text class="r" x="520.6" y="3019.7">0 rows</text>
</g>
<g id="cell_lineprop_pub">
<rect class="hd" x="423.4" y="3053.3" width="122.5" height="22.75"/><rect class="rw" x="423.4" y="3076.05" width="122.5" height="22.75"/>
<rect class="rw" x="423.4" y="3098.8" width="41.4" height="22.75"/><rect class="rw" x="464.8" y="3098.8" width="57" height="22.75"/><rect class="rw" x="521.8" y="3098.8" width="24.1" height="22.75"/>
<line class="hb" x1="423.4" y1="3076.05" x2="545.9" y2="3076.05"/>
<text class="c" x="484.65" y="3069.8">cell_lineprop_pub</text><text x="427.4" y="3092.55">...</text>
<text x="427.4" y="3115.3">&lt; 2</text><text class="r" x="517.8" y="3115.3">0 rows</text>
</g>
<g id="expression_pub">
<rect class="hd" x="430.1" y="3149.7" width="110.2" height="22.75"/><rect class="rw" x="430.1" y="3172.45" width="110.2" height="22.75"/>
<rect class="rw" x="430.1" y="3195.2" width="35.8" height="22.75"/><rect class="rw" x="465.9" y="3195.2" width="54.8" height="22.75"/><rect class="rw" x="520.7" y="3195.2" width="19.6" height="22.75"/>
<line class="hb" x1="430.1" y1="3172.45" x2="540.3" y2="3172.45"/>
<text class="c" x="485.2" y="3166.2">expression_pub</text><text x="434.1" y="3188.95">...</text>
<text x="434.1" y="3211.7">&lt; 2</text><text class="r" x="516.7" y="3211.7">0 rows</text>
</g>
<g id="feature_expression">
<rect class="hd" x="419.5" y="3283" width="132" height="22.75"/><rect class="rw" x="419.5" y="3305.75" width="132" height="22.75"/>
<rect class="rw" x="419.5" y="3328.5" width="39.7" height="22.75"/><rect class="rw" x="459.2" y="3328.5" width="58.1" height="22.75"/><rect class="rw" x="517.3" y="3328.5" width="34.2" height="22.75"/>
<line class="hb" x1="419.5" y1="3305.75" x2="551.5" y2="3305.75"/>
<text class="c" x="485.5" y="3299.5">feature_expression</text><text x="423.5" y="3322.25">...</text>
<text x="423.5" y="3345">&lt; 3</text><text class="r" x="513.3" y="3345">0 rows</text><text class="r" x="547.5" y="3345">1 &gt;</text>
</g>
<g id="feature_pub">
<rect class="hd" x="431.2" y="3379" width="106.8" height="22.75"/><rect class="rw" x="431.2" y="3401.75" width="106.8" height="22.75"/>
<rect class="rw" x="431.2" y="3424.5" width="28" height="22.75"/><rect class="rw" x="459.2" y="3424.5" width="50.8" height="22.75"/><rect class="rw" x="510" y="3424.5" width="28" height="22.75"/>
<line class="hb" x1="431.2" y1="3401.75" x2="538" y2="3401.75"/>
<text class="c" x="484.6" y="3395.5">feature_pub</text><text x="435.2" y="3418.25">...</text>
<text x="435.2" y="3441">&lt; 2</text><text class="r" x="506" y="3441">0 rows</text><text class="r" x="534" y="3441">1 &gt;</text>
</g>
<g id="feature_cvterm_pub">
<rect class="hd" x="687.4" y="3392.3" width="137" height="22.75"/><rect class="rw" x="687.4" y="3415.05" width="137" height="22.75"/>
<rect class="rw" x="687.4" y="3437.8" width="49.8" height="22.75"/><rect class="rw" x="737.2" y="3437.8" width="60.4" height="22.75"/><rect class="rw" x="797.6" y="3437.8" width="26.8" height="22.75"/>
<line class="hb" x1="687.4" y1="3415.05" x2="824.4" y2="3415.05"/>
<text class="c" x="755.9" y="3408.8">feature_cvterm_pub</text><text x="691.4" y="3431.55">...</text>
<text x="691.4" y="3454.3">&lt; 2</text><text class="r" x="793.6" y="3454.3">0 rows</text>
</g>
<g id="pub_relationship">
<rect class="hd" x="427.3" y="3475" width="114.7" height="22.75"/><rect class="rw" x="427.3" y="3497.75" width="114.7" height="22.75"/>
<rect class="rw" x="427.3" y="3520.5" width="37.5" height="22.75"/><rect class="rw" x="464.8" y="3520.5" width="55.9" height="22.75"/><rect class="rw" x="520.7" y="3520.5" width="21.3" height="22.75"/>
<line class="hb" x1="427.3" y1="3497.75" x2="542" y2="3497.75"/>
<text class="c" x="484.65" y="3491.5">pub_relationship</text><text x="431.3" y="3514.25">...</text>
<text x="431.3" y="3537">&lt; 3</text><text class="r" x="516.7" y="3537">0 rows</text>
</g>
<g id="feature_cvterm">
<rect class="hd" x="431.2" y="3571" width="106.8" height="22.75"/><rect class="rw" x="431.2" y="3593.75" width="106.8" height="22.75"/>
<rect class="rw" x="431.2" y="3616.5" width="28" height="22.75"/><rect class="rw" x="459.2" y="3616.5" width="50.8" height="22.75"/><rect class="rw" x="510" y="3616.5" width="28" height="22.75"/>
<line class="hb" x1="431.2" y1="3593.75" x2="538" y2="3593.75"/>
<text class="c" x="484.6" y="3587.5">feature_cvterm</text><text x="435.2" y="3610.25">...</text>
<text x="435.2" y="3633">&lt; 3</text><text class="r" x="506" y="3633">0 rows</text><text class="r" x="534" y="3633">3 &gt;</text>
</g>
<g id="phendesc">
<rect class="hd" x="437.9" y="3667" width="94.6" height="22.75"/><rect class="rw" x="437.9" y="3689.75" width="94.6" height="22.75"/>
<rect class="rw" x="437.9" y="3712.5" width="28" height="22.75"/><rect class="rw" x="465.9" y="3712.5" width="50.9" height="22.75"/><rect class="rw" x="516.8" y="3712.5" width="15.7" height="22.75"/>
<line class="hb" x1="437.9" y1="3689.75" x2="532.5" y2="3689.75"/>
<text class="c" x="485.2" y="3683.5">phendesc</text><text x="441.9" y="3706.25">...</text>
<text x="441.9" y="3729">&lt; 4</text><text class="r" x="512.8" y="3729">0 rows</text>
</g>
<g id="phenstatement">
<rect class="hd" x="432.3" y="3763" width="104.1" height="22.75"/><rect class="rw" x="432.3" y="3785.75" width="104.1" height="22.75"/>
<rect class="rw" x="432.3" y="3808.5" width="32.5" height="22.75"/><rect class="rw" x="464.8" y="3808.5" width="53.7" height="22.75"/><rect class="rw" x="518.5" y="3808.5" width="17.9" height="22.75"/>
<line class="hb" x1="432.3" y1="3785.75" x2="536.4" y2="3785.75"/>
<text class="c" x="484.35" y="3779.5">phenstatement</text><text x="436.3" y="3802.25">...</text>
<text x="436.3" y="3825">&lt; 5</text><text class="r" x="514.5" y="3825">0 rows</text>
</g>
<g id="protocol">
<rect class="hd" x="431.2" y="3858.7" width="106.8" height="22.75"/><rect class="rw" x="431.2" y="3881.45" width="106.8" height="22.75"/>
<rect class="rw" x="431.2" y="3904.2" width="28" height="22.75"/><rect class="rw" x="459.2" y="3904.2" width="50.8" height="22.75"/><rect class="rw" x="510" y="3904.2" width="28" height="22.75"/>
<line class="hb" x1="431.2" y1="3881.45" x2="538" y2="3881.45"/>
<text class="c" x="484.6" y="3875.2">protocol</text><text x="435.2" y="3897.95">...</text>
<text x="435.2" y="3920.7">&lt; 3</text><text class="r" x="506" y="3920.7">0 rows</text><text class="r" x="534" y="3920.7">6 &gt;</text>
</g>
<g id="pubprop">
<rect class="hd" x="437.9" y="3955" width="94.6" height="22.75"/><rect class="rw" x="437.9" y="3977.75" width="94.6" height="22.75"/>
<rect class="rw" x="437.9" y="4000.5" width="28" height="22.75"/><rect class="rw" x="465.9" y="4000.5" width="50.9" height="22.75"/><rect class="rw" x="516.8" y="4000.5" width="15.7" height="22.75"/>
<line class="hb" x1="437.9" y1="3977.75" x2="532.5" y2="3977.75"/>
<text class="c" x="485.2" y="3971.5">pubprop</text><text x="441.9" y="3994.25">...</text>
<text x="441.9" y="4017">&lt; 2</text><text class="r" x="512.8" y="4017">0 rows</text>
</g>
<text x="15.7" y="4063">Generated by SchemaSpy</text>
</svg>
